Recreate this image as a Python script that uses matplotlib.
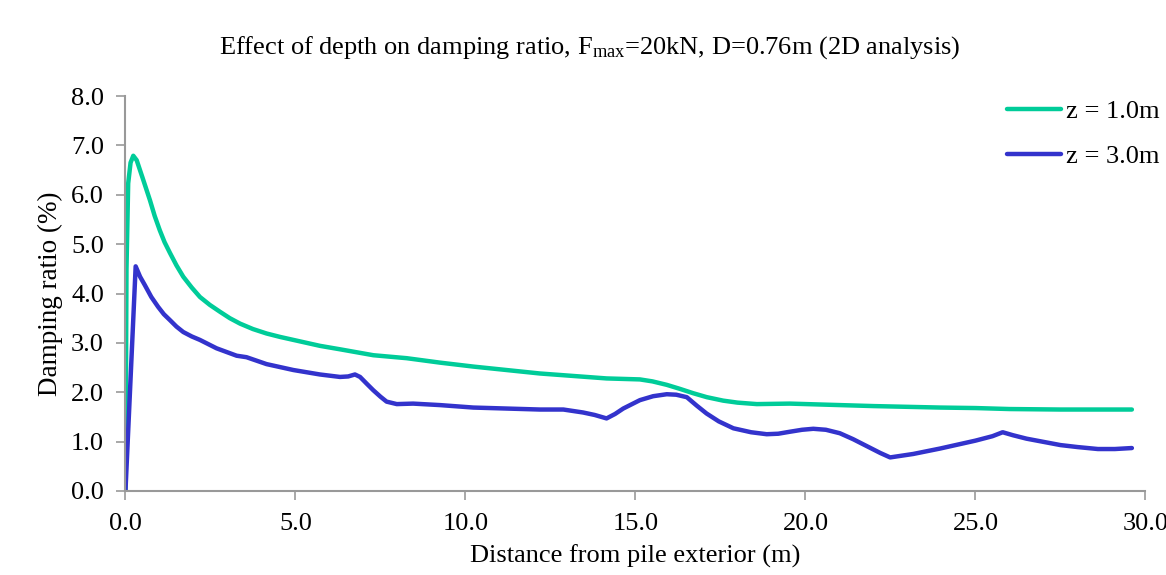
import numpy as np
import matplotlib
matplotlib.use('Agg')
import matplotlib.pyplot as plt

plt.rcParams['font.family'] = ['Liberation Serif', 'DejaVu Serif']
plt.rcParams['mathtext.fontset'] = 'custom'
plt.rcParams['mathtext.rm'] = 'Liberation Serif'
plt.rcParams['mathtext.it'] = 'Liberation Serif:italic'

# distance from pile exterior (m) and damping ratio (%) for z = 1.0m
x_z1 = [0.0, 0.03, 0.08, 0.15, 0.23, 0.33, 0.5, 0.72, 0.86, 1.01, 1.15, 1.31,
        1.50, 1.70, 1.95, 2.19, 2.48, 2.78, 3.07, 3.37, 3.75, 4.15, 4.55,
        4.94, 5.33, 5.72, 6.31, 7.29, 8.27, 9.25, 10.23, 11.21, 12.19, 13.17,
        14.15, 15.13, 15.5, 15.92, 16.3, 16.7, 17.1, 17.58, 18.0, 18.57,
        19.54, 20.52, 22.0, 23.96, 25.0, 26.0, 27.5, 29.6]
y_z1 = [0.0, 4.5, 6.23, 6.65, 6.79, 6.70, 6.35, 5.89, 5.57, 5.28, 5.04, 4.82,
        4.57, 4.34, 4.12, 3.93, 3.77, 3.63, 3.50, 3.39, 3.28, 3.19, 3.12,
        3.06, 3.00, 2.94, 2.87, 2.75, 2.69, 2.60, 2.52, 2.45, 2.38, 2.33,
        2.28, 2.26, 2.22, 2.15, 2.07, 1.98, 1.90, 1.83, 1.79, 1.76,
        1.77, 1.75, 1.72, 1.69, 1.68, 1.66, 1.65, 1.65]

# damping ratio (%) for z = 3.0m
x_z3 = [0.0, 0.3, 0.43, 0.57, 0.76, 0.96, 1.13, 1.31, 1.50, 1.70, 1.95, 2.19,
        2.68, 3.27, 3.56, 4.15, 4.94, 5.72, 6.31, 6.55, 6.75, 6.9, 7.1, 7.29,
        7.5, 7.68, 7.98, 8.46, 9.25, 10.23, 11.21, 12.19, 12.88, 13.46, 13.8,
        14.15, 14.4, 14.64, 15.13, 15.52, 15.92, 16.2, 16.51, 16.8, 17.09,
        17.45, 17.88, 18.4, 18.86, 19.2, 19.54, 19.9, 20.23, 20.6, 21.01,
        21.4, 21.8, 22.2, 22.49, 23.17, 23.96, 25.0, 25.5, 25.8, 26.1, 26.5,
        27.5, 28.0, 28.6, 29.1, 29.6]
y_z3 = [0.0, 4.55, 4.34, 4.17, 3.93, 3.73, 3.58, 3.46, 3.33, 3.22, 3.13, 3.06,
        2.89, 2.74, 2.71, 2.57, 2.45, 2.36, 2.31, 2.32, 2.36, 2.31, 2.17, 2.04,
        1.91, 1.81, 1.76, 1.77, 1.74, 1.69, 1.67, 1.65, 1.65, 1.59, 1.54,
        1.47, 1.56, 1.67, 1.84, 1.92, 1.96, 1.95, 1.90, 1.73, 1.57,
        1.41, 1.27, 1.19, 1.15, 1.16, 1.20, 1.24, 1.26, 1.24, 1.17,
        1.05, 0.91, 0.77, 0.68, 0.75, 0.86, 1.02, 1.11, 1.19, 1.13, 1.06,
        0.93, 0.89, 0.85, 0.85, 0.87]

fig = plt.figure(figsize=(11.66, 5.75), dpi=100)
ax = fig.add_axes([0.1076, 0.1461, 0.8748, 0.6869])

ax.plot(x_z1, y_z1, color='#00CC99', lw=3.2, label='z = 1.0m',
        solid_joinstyle='round', solid_capstyle='round')
ax.plot(x_z3, y_z3, color='#3333CC', lw=3.2, label='z = 3.0m',
        solid_joinstyle='round', solid_capstyle='round')

ax.set_xlim(0, 30)
ax.set_ylim(0, 8)
ax.set_xticks(np.arange(0, 30.1, 5))
ax.set_yticks(np.arange(0, 8.1, 1))
ax.xaxis.set_major_formatter(matplotlib.ticker.FormatStrFormatter('%.1f'))
ax.yaxis.set_major_formatter(matplotlib.ticker.FormatStrFormatter('%.1f'))
ax.tick_params(direction='out', length=6.5, width=1.2, color='#999999',
               labelsize=19)
ax.tick_params(axis='x', pad=9.5)
ax.tick_params(axis='y', pad=9)
for side in ['top', 'right']:
    ax.spines[side].set_visible(False)
for side in ['left', 'bottom']:
    ax.spines[side].set_color('#999999')
    ax.spines[side].set_linewidth(1.5)

ax.set_xlabel('Distance from pile exterior (m)', fontsize=19, labelpad=7)
ax.set_ylabel('Damping ratio (%)', fontsize=19.5, labelpad=6)

fig.text(0.506, 0.9165,
         r'Effect of depth on damping ratio, F$_{\mathrm{max}}$=20kN, D=0.76m (2D analysis)',
         ha='center', va='center', fontsize=19)

leg = ax.legend(loc='upper left', bbox_to_anchor=(1007 / 1166, 1 - 100 / 575),
                bbox_transform=fig.transFigure, frameon=False, fontsize=19,
                handlelength=2.05, handletextpad=0.2, labelspacing=0.8,
                borderpad=0, borderaxespad=0)

fig.savefig('out.png', dpi=100)
